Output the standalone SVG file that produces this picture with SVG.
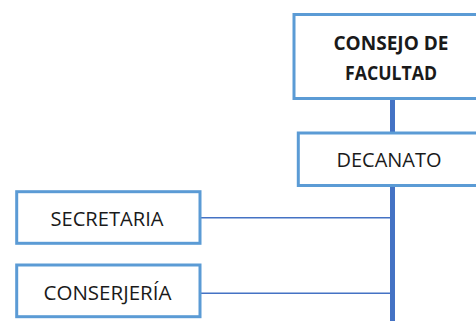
<svg xmlns="http://www.w3.org/2000/svg" width="476" height="321" viewBox="0 0 476 321">
<style>
.box{fill:#fff;stroke:#5b9bd5;stroke-width:3}
.t{font-family:"Open Sans","Liberation Sans",sans-serif;font-size:19.5px;fill:#1a1a1a;text-anchor:middle}
.b{font-weight:bold}
.main{stroke:#4472c4;stroke-width:5;fill:none}
.thin{stroke:#4472c4;stroke-width:1.6;fill:none}
</style>
<rect width="476" height="321" fill="#fff"/>
<g id="connectors">
<line class="main" x1="392.5" y1="98" x2="392.5" y2="321"/>
<line class="thin" x1="200" y1="217.7" x2="390" y2="217.7"/>
<line class="thin" x1="200" y1="293.3" x2="390" y2="293.3"/>
</g>
<g id="consejo">
<rect class="box" x="294" y="14.5" width="200" height="84"/>
<text class="t b" x="391" y="50" textLength="115" lengthAdjust="spacingAndGlyphs">CONSEJO DE</text>
<text class="t b" x="391" y="80" textLength="92" lengthAdjust="spacingAndGlyphs">FACULTAD</text>
</g>
<g id="decanato">
<rect class="box" x="298.3" y="133" width="200" height="52.5"/>
<text class="t" x="389" y="167" textLength="105" lengthAdjust="spacingAndGlyphs">DECANATO</text>
</g>
<g id="secretaria">
<rect class="box" x="16.7" y="191.7" width="183.3" height="51.6"/>
<text class="t" x="107" y="226" textLength="113" lengthAdjust="spacingAndGlyphs">SECRETARIA</text>
</g>
<g id="conserjeria">
<rect class="box" x="16.7" y="265" width="183.3" height="51.7"/>
<text class="t" x="107.5" y="300" textLength="128" lengthAdjust="spacingAndGlyphs">CONSERJERÍA</text>
</g>
</svg>
